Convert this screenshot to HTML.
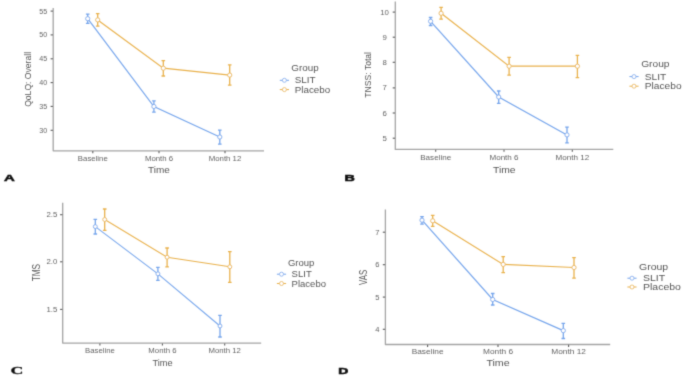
<!DOCTYPE html>
<html><head><meta charset="utf-8"><style>
html,body{margin:0;padding:0;background:#fff;}
body{width:685px;height:376px;overflow:hidden;}
svg{display:block;font-family:"Liberation Sans", sans-serif;}
</style></head><body>
<svg width="685" height="376" viewBox="0 0 685 376">
<defs><filter id="bl" x="-5%" y="-5%" width="110%" height="110%"><feConvolveMatrix order="3" kernelMatrix="0.01917 0.10012 0.01917 0.10012 0.52283 0.10012 0.01917 0.10012 0.01917" edgeMode="duplicate" preserveAlpha="false"/></filter></defs>
<rect width="685" height="376" fill="#fff"/>
<g filter="url(#bl)">
<path d="M53.20 8.00 V150.80 H264.00" fill="none" stroke="#a4a4a4" stroke-width="1.3" stroke-linejoin="round"/>
<line x1="50.60" y1="11.10" x2="52.90" y2="11.10" stroke="#5a5a5a" stroke-width="1.1"/>
<text transform="translate(47.20,13.55) scale(1.05,1)" text-anchor="end" font-size="6.8" fill="#646464" >55</text>
<line x1="50.60" y1="34.90" x2="52.90" y2="34.90" stroke="#5a5a5a" stroke-width="1.1"/>
<text transform="translate(47.20,37.35) scale(1.05,1)" text-anchor="end" font-size="6.8" fill="#646464" >50</text>
<line x1="50.60" y1="58.80" x2="52.90" y2="58.80" stroke="#5a5a5a" stroke-width="1.1"/>
<text transform="translate(47.20,61.25) scale(1.05,1)" text-anchor="end" font-size="6.8" fill="#646464" >45</text>
<line x1="50.60" y1="82.60" x2="52.90" y2="82.60" stroke="#5a5a5a" stroke-width="1.1"/>
<text transform="translate(47.20,85.05) scale(1.05,1)" text-anchor="end" font-size="6.8" fill="#646464" >40</text>
<line x1="50.60" y1="106.40" x2="52.90" y2="106.40" stroke="#5a5a5a" stroke-width="1.1"/>
<text transform="translate(47.20,108.85) scale(1.05,1)" text-anchor="end" font-size="6.8" fill="#646464" >35</text>
<line x1="50.60" y1="130.30" x2="52.90" y2="130.30" stroke="#5a5a5a" stroke-width="1.1"/>
<text transform="translate(47.20,132.75) scale(1.05,1)" text-anchor="end" font-size="6.8" fill="#646464" >30</text>
<line x1="92.80" y1="151.10" x2="92.80" y2="153.20" stroke="#5a5a5a" stroke-width="1.1"/>
<text transform="translate(92.80,161.00) scale(1.1,1)" text-anchor="middle" font-size="7.1" fill="#646464" >Baseline</text>
<line x1="159.00" y1="151.10" x2="159.00" y2="153.20" stroke="#5a5a5a" stroke-width="1.1"/>
<text transform="translate(159.00,161.00) scale(1.1,1)" text-anchor="middle" font-size="7.1" fill="#646464" >Month 6</text>
<line x1="225.00" y1="151.10" x2="225.00" y2="153.20" stroke="#5a5a5a" stroke-width="1.1"/>
<text transform="translate(225.00,161.00) scale(1.1,1)" text-anchor="middle" font-size="7.1" fill="#646464" >Month 12</text>
<text transform="translate(159.00,173.30) scale(1.03,1)" text-anchor="middle" font-size="9.7" fill="#555555" >Time</text>
<text transform="translate(27.60,79.40) rotate(-90) scale(1,1.1)" text-anchor="middle" font-size="8.6" fill="#555555" dy="0.35em">QoLQ: Overall</text>
<path d="M97.70 19.90 L163.30 68.20 L229.70 75.10" fill="none" stroke="#E9B24E" stroke-width="1.2"/>
<path d="M95.90 13.60 H99.50 M97.70 13.60 V26.10 M95.90 26.10 H99.50" fill="none" stroke="#E9B24E" stroke-width="1.3"/>
<circle cx="97.70" cy="19.90" r="2.1" fill="#fff" stroke="#E9B24E" stroke-width="0.9"/>
<path d="M161.50 60.60 H165.10 M163.30 60.60 V76.00 M161.50 76.00 H165.10" fill="none" stroke="#E9B24E" stroke-width="1.3"/>
<circle cx="163.30" cy="68.20" r="2.1" fill="#fff" stroke="#E9B24E" stroke-width="0.9"/>
<path d="M227.90 64.80 H231.50 M229.70 64.80 V85.10 M227.90 85.10 H231.50" fill="none" stroke="#E9B24E" stroke-width="1.3"/>
<circle cx="229.70" cy="75.10" r="2.1" fill="#fff" stroke="#E9B24E" stroke-width="0.9"/>
<path d="M87.70 18.70 L153.90 106.50 L219.80 137.00" fill="none" stroke="#77A6EC" stroke-width="1.2"/>
<path d="M85.90 14.20 H89.50 M87.70 14.20 V23.40 M85.90 23.40 H89.50" fill="none" stroke="#77A6EC" stroke-width="1.3"/>
<circle cx="87.70" cy="18.70" r="2.1" fill="#fff" stroke="#77A6EC" stroke-width="0.9"/>
<path d="M152.10 100.80 H155.70 M153.90 100.80 V112.20 M152.10 112.20 H155.70" fill="none" stroke="#77A6EC" stroke-width="1.3"/>
<circle cx="153.90" cy="106.50" r="2.1" fill="#fff" stroke="#77A6EC" stroke-width="0.9"/>
<path d="M218.00 130.10 H221.60 M219.80 130.10 V144.20 M218.00 144.20 H221.60" fill="none" stroke="#77A6EC" stroke-width="1.3"/>
<circle cx="219.80" cy="137.00" r="2.1" fill="#fff" stroke="#77A6EC" stroke-width="0.9"/>
<text transform="translate(291.30,71.20) scale(1.16,1)" text-anchor="start" font-size="8.5" fill="#555555" >Group</text>
<line x1="279.80" y1="80.30" x2="289.00" y2="80.30" stroke="#77A6EC" stroke-width="1.0"/>
<circle cx="284.40" cy="80.30" r="2" fill="#fff" stroke="#77A6EC" stroke-width="0.8"/>
<text transform="translate(294.70,83.36) scale(1.16,1)" text-anchor="start" font-size="8.5" fill="#555555" >SLIT</text>
<line x1="279.80" y1="89.60" x2="289.00" y2="89.60" stroke="#E9B24E" stroke-width="1.0"/>
<circle cx="284.40" cy="89.60" r="2" fill="#fff" stroke="#E9B24E" stroke-width="0.8"/>
<text transform="translate(294.70,92.66) scale(1.16,1)" text-anchor="start" font-size="8.5" fill="#555555" >Placebo</text>
<path d="M395.30 1.60 V149.40 H613.30" fill="none" stroke="#a4a4a4" stroke-width="1.3" stroke-linejoin="round"/>
<line x1="392.70" y1="12.10" x2="395.00" y2="12.10" stroke="#5a5a5a" stroke-width="1.1"/>
<text transform="translate(384.60,14.69) scale(1.084947049924357,1)" text-anchor="middle" font-size="7.2" fill="#646464" >10</text>
<line x1="392.70" y1="37.20" x2="395.00" y2="37.20" stroke="#5a5a5a" stroke-width="1.1"/>
<text transform="translate(384.60,39.79) scale(1.084947049924357,1)" text-anchor="middle" font-size="7.2" fill="#646464" >9</text>
<line x1="392.70" y1="62.30" x2="395.00" y2="62.30" stroke="#5a5a5a" stroke-width="1.1"/>
<text transform="translate(384.60,64.89) scale(1.084947049924357,1)" text-anchor="middle" font-size="7.2" fill="#646464" >8</text>
<line x1="392.70" y1="87.90" x2="395.00" y2="87.90" stroke="#5a5a5a" stroke-width="1.1"/>
<text transform="translate(384.60,90.49) scale(1.084947049924357,1)" text-anchor="middle" font-size="7.2" fill="#646464" >7</text>
<line x1="392.70" y1="113.00" x2="395.00" y2="113.00" stroke="#5a5a5a" stroke-width="1.1"/>
<text transform="translate(384.60,115.59) scale(1.084947049924357,1)" text-anchor="middle" font-size="7.2" fill="#646464" >6</text>
<line x1="392.70" y1="138.20" x2="395.00" y2="138.20" stroke="#5a5a5a" stroke-width="1.1"/>
<text transform="translate(384.60,140.79) scale(1.084947049924357,1)" text-anchor="middle" font-size="7.2" fill="#646464" >5</text>
<line x1="435.70" y1="149.70" x2="435.70" y2="151.80" stroke="#5a5a5a" stroke-width="1.1"/>
<text transform="translate(435.70,160.20) scale(1.1366111951588502,1)" text-anchor="middle" font-size="7.1" fill="#646464" >Baseline</text>
<line x1="504.00" y1="149.70" x2="504.00" y2="151.80" stroke="#5a5a5a" stroke-width="1.1"/>
<text transform="translate(504.00,160.20) scale(1.1366111951588502,1)" text-anchor="middle" font-size="7.1" fill="#646464" >Month 6</text>
<line x1="572.30" y1="149.70" x2="572.30" y2="151.80" stroke="#5a5a5a" stroke-width="1.1"/>
<text transform="translate(572.30,160.20) scale(1.1366111951588502,1)" text-anchor="middle" font-size="7.1" fill="#646464" >Month 12</text>
<text transform="translate(504.30,173.30) scale(1.0642813918305596,1)" text-anchor="middle" font-size="9.7" fill="#555555" >Time</text>
<text transform="translate(367.60,74.80) rotate(-90) scale(1,1.1)" text-anchor="middle" font-size="8.6" fill="#555555" dy="0.35em">TNSS: Total</text>
<path d="M441.10 13.30 L509.10 66.20 L577.40 66.20" fill="none" stroke="#E9B24E" stroke-width="1.2"/>
<path d="M439.30 7.40 H442.90 M441.10 7.40 V19.10 M439.30 19.10 H442.90" fill="none" stroke="#E9B24E" stroke-width="1.3"/>
<circle cx="441.10" cy="13.30" r="2.1" fill="#fff" stroke="#E9B24E" stroke-width="0.9"/>
<path d="M507.30 57.40 H510.90 M509.10 57.40 V75.10 M507.30 75.10 H510.90" fill="none" stroke="#E9B24E" stroke-width="1.3"/>
<circle cx="509.10" cy="66.20" r="2.1" fill="#fff" stroke="#E9B24E" stroke-width="0.9"/>
<path d="M575.60 55.30 H579.20 M577.40 55.30 V77.70 M575.60 77.70 H579.20" fill="none" stroke="#E9B24E" stroke-width="1.3"/>
<circle cx="577.40" cy="66.20" r="2.1" fill="#fff" stroke="#E9B24E" stroke-width="0.9"/>
<path d="M430.60 21.30 L498.70 97.00 L567.00 134.90" fill="none" stroke="#77A6EC" stroke-width="1.2"/>
<path d="M428.80 17.50 H432.40 M430.60 17.50 V25.50 M428.80 25.50 H432.40" fill="none" stroke="#77A6EC" stroke-width="1.3"/>
<circle cx="430.60" cy="21.30" r="2.1" fill="#fff" stroke="#77A6EC" stroke-width="0.9"/>
<path d="M496.90 91.00 H500.50 M498.70 91.00 V103.40 M496.90 103.40 H500.50" fill="none" stroke="#77A6EC" stroke-width="1.3"/>
<circle cx="498.70" cy="97.00" r="2.1" fill="#fff" stroke="#77A6EC" stroke-width="0.9"/>
<path d="M565.20 127.20 H568.80 M567.00 127.20 V142.90 M565.20 142.90 H568.80" fill="none" stroke="#77A6EC" stroke-width="1.3"/>
<circle cx="567.00" cy="134.90" r="2.1" fill="#fff" stroke="#77A6EC" stroke-width="0.9"/>
<text transform="translate(641.20,67.00) scale(1.1986081694402417,1)" text-anchor="start" font-size="8.5" fill="#555555" >Group</text>
<line x1="629.40" y1="76.60" x2="638.60" y2="76.60" stroke="#77A6EC" stroke-width="1.0"/>
<circle cx="634.00" cy="76.60" r="2" fill="#fff" stroke="#77A6EC" stroke-width="0.8"/>
<text transform="translate(644.80,79.66) scale(1.1986081694402417,1)" text-anchor="start" font-size="8.5" fill="#555555" >SLIT</text>
<line x1="629.40" y1="86.20" x2="638.60" y2="86.20" stroke="#E9B24E" stroke-width="1.0"/>
<circle cx="634.00" cy="86.20" r="2" fill="#fff" stroke="#E9B24E" stroke-width="0.8"/>
<text transform="translate(644.80,89.26) scale(1.1986081694402417,1)" text-anchor="start" font-size="8.5" fill="#555555" >Placebo</text>
<path d="M62.70 202.80 V343.10 H261.20" fill="none" stroke="#a4a4a4" stroke-width="1.3" stroke-linejoin="round"/>
<line x1="60.10" y1="214.70" x2="62.40" y2="214.70" stroke="#5a5a5a" stroke-width="1.1"/>
<text transform="translate(57.30,217.22) scale(1.12,1)" text-anchor="end" font-size="7.0" fill="#646464" >2.5</text>
<line x1="60.10" y1="261.80" x2="62.40" y2="261.80" stroke="#5a5a5a" stroke-width="1.1"/>
<text transform="translate(57.30,264.32) scale(1.12,1)" text-anchor="end" font-size="7.0" fill="#646464" >2.0</text>
<line x1="60.10" y1="309.40" x2="62.40" y2="309.40" stroke="#5a5a5a" stroke-width="1.1"/>
<text transform="translate(57.30,311.92) scale(1.12,1)" text-anchor="end" font-size="7.0" fill="#646464" >1.5</text>
<line x1="99.90" y1="343.40" x2="99.90" y2="345.50" stroke="#5a5a5a" stroke-width="1.1"/>
<text transform="translate(99.90,352.90) scale(1.13,1)" text-anchor="middle" font-size="6.9" fill="#646464" >Baseline</text>
<line x1="162.40" y1="343.40" x2="162.40" y2="345.50" stroke="#5a5a5a" stroke-width="1.1"/>
<text transform="translate(162.40,352.90) scale(1.13,1)" text-anchor="middle" font-size="6.9" fill="#646464" >Month 6</text>
<line x1="224.70" y1="343.40" x2="224.70" y2="345.50" stroke="#5a5a5a" stroke-width="1.1"/>
<text transform="translate(224.70,352.90) scale(1.13,1)" text-anchor="middle" font-size="6.9" fill="#646464" >Month 12</text>
<text transform="translate(162.50,366.00) scale(0.9723449319213312,1)" text-anchor="middle" font-size="9.5" fill="#555555" >Time</text>
<text transform="translate(36.40,272.60) rotate(-90) scale(1,1.4)" text-anchor="middle" font-size="8.3" fill="#555555" dy="0.35em">TMS</text>
<path d="M104.70 219.50 L167.10 257.20 L229.80 266.80" fill="none" stroke="#E9B24E" stroke-width="1.05"/>
<path d="M102.90 209.00 H106.50 M104.70 209.00 V230.30 M102.90 230.30 H106.50" fill="none" stroke="#E9B24E" stroke-width="1.3"/>
<circle cx="104.70" cy="219.50" r="1.95" fill="#fff" stroke="#E9B24E" stroke-width="0.9"/>
<path d="M165.30 248.00 H168.90 M167.10 248.00 V266.80 M165.30 266.80 H168.90" fill="none" stroke="#E9B24E" stroke-width="1.3"/>
<circle cx="167.10" cy="257.20" r="1.95" fill="#fff" stroke="#E9B24E" stroke-width="0.9"/>
<path d="M228.00 251.60 H231.60 M229.80 251.60 V282.30 M228.00 282.30 H231.60" fill="none" stroke="#E9B24E" stroke-width="1.3"/>
<circle cx="229.80" cy="266.80" r="1.95" fill="#fff" stroke="#E9B24E" stroke-width="0.9"/>
<path d="M95.30 226.60 L157.90 273.80 L220.00 326.00" fill="none" stroke="#77A6EC" stroke-width="1.05"/>
<path d="M93.50 219.40 H97.10 M95.30 219.40 V234.00 M93.50 234.00 H97.10" fill="none" stroke="#77A6EC" stroke-width="1.3"/>
<circle cx="95.30" cy="226.60" r="1.95" fill="#fff" stroke="#77A6EC" stroke-width="0.9"/>
<path d="M156.10 267.40 H159.70 M157.90 267.40 V280.40 M156.10 280.40 H159.70" fill="none" stroke="#77A6EC" stroke-width="1.3"/>
<circle cx="157.90" cy="273.80" r="1.95" fill="#fff" stroke="#77A6EC" stroke-width="0.9"/>
<path d="M218.20 315.30 H221.80 M220.00 315.30 V337.00 M218.20 337.00 H221.80" fill="none" stroke="#77A6EC" stroke-width="1.3"/>
<circle cx="220.00" cy="326.00" r="1.95" fill="#fff" stroke="#77A6EC" stroke-width="0.9"/>
<text transform="translate(287.90,265.70) scale(1.12,1)" text-anchor="start" font-size="8.5" fill="#555555" >Group</text>
<line x1="276.90" y1="274.20" x2="286.10" y2="274.20" stroke="#77A6EC" stroke-width="1.0"/>
<circle cx="281.50" cy="274.20" r="2" fill="#fff" stroke="#77A6EC" stroke-width="0.8"/>
<text transform="translate(291.60,277.26) scale(1.12,1)" text-anchor="start" font-size="8.5" fill="#555555" >SLIT</text>
<line x1="276.90" y1="283.50" x2="286.10" y2="283.50" stroke="#E9B24E" stroke-width="1.0"/>
<circle cx="281.50" cy="283.50" r="2" fill="#fff" stroke="#E9B24E" stroke-width="0.8"/>
<text transform="translate(291.60,286.56) scale(1.12,1)" text-anchor="start" font-size="8.5" fill="#555555" >Placebo</text>
<path d="M385.40 209.60 V344.50 H610.20" fill="none" stroke="#a4a4a4" stroke-width="1.3" stroke-linejoin="round"/>
<line x1="382.80" y1="232.20" x2="385.10" y2="232.20" stroke="#5a5a5a" stroke-width="1.1"/>
<text transform="translate(379.50,234.65) scale(1.1198940998487141,1)" text-anchor="end" font-size="6.8" fill="#646464" >7</text>
<line x1="382.80" y1="264.70" x2="385.10" y2="264.70" stroke="#5a5a5a" stroke-width="1.1"/>
<text transform="translate(379.50,267.15) scale(1.1198940998487141,1)" text-anchor="end" font-size="6.8" fill="#646464" >6</text>
<line x1="382.80" y1="297.10" x2="385.10" y2="297.10" stroke="#5a5a5a" stroke-width="1.1"/>
<text transform="translate(379.50,299.55) scale(1.1198940998487141,1)" text-anchor="end" font-size="6.8" fill="#646464" >5</text>
<line x1="382.80" y1="329.30" x2="385.10" y2="329.30" stroke="#5a5a5a" stroke-width="1.1"/>
<text transform="translate(379.50,331.75) scale(1.1198940998487141,1)" text-anchor="end" font-size="6.8" fill="#646464" >4</text>
<line x1="427.60" y1="344.80" x2="427.60" y2="346.90" stroke="#5a5a5a" stroke-width="1.1"/>
<text transform="translate(427.60,354.00) scale(1.1732223903177006,1)" text-anchor="middle" font-size="7.1" fill="#646464" >Baseline</text>
<line x1="498.00" y1="344.80" x2="498.00" y2="346.90" stroke="#5a5a5a" stroke-width="1.1"/>
<text transform="translate(498.00,354.00) scale(1.1732223903177006,1)" text-anchor="middle" font-size="7.1" fill="#646464" >Month 6</text>
<line x1="568.60" y1="344.80" x2="568.60" y2="346.90" stroke="#5a5a5a" stroke-width="1.1"/>
<text transform="translate(568.60,354.00) scale(1.1732223903177006,1)" text-anchor="middle" font-size="7.1" fill="#646464" >Month 12</text>
<text transform="translate(498.00,366.30) scale(1.0985627836611196,1)" text-anchor="middle" font-size="9.7" fill="#555555" >Time</text>
<text transform="translate(363.00,277.30) rotate(-90) scale(1,1.4)" text-anchor="middle" font-size="7.9" fill="#555555" dy="0.35em">VAS</text>
<path d="M432.70 220.80 L503.20 264.40 L574.00 267.50" fill="none" stroke="#E9B24E" stroke-width="1.2"/>
<path d="M430.90 215.40 H434.50 M432.70 215.40 V226.40 M430.90 226.40 H434.50" fill="none" stroke="#E9B24E" stroke-width="1.3"/>
<circle cx="432.70" cy="220.80" r="2.1" fill="#fff" stroke="#E9B24E" stroke-width="0.9"/>
<path d="M501.40 256.70 H505.00 M503.20 256.70 V272.70 M501.40 272.70 H505.00" fill="none" stroke="#E9B24E" stroke-width="1.3"/>
<circle cx="503.20" cy="264.40" r="2.1" fill="#fff" stroke="#E9B24E" stroke-width="0.9"/>
<path d="M572.20 257.70 H575.80 M574.00 257.70 V278.20 M572.20 278.20 H575.80" fill="none" stroke="#E9B24E" stroke-width="1.3"/>
<circle cx="574.00" cy="267.50" r="2.1" fill="#fff" stroke="#E9B24E" stroke-width="0.9"/>
<path d="M422.00 220.20 L492.70 299.50 L563.30 330.60" fill="none" stroke="#77A6EC" stroke-width="1.2"/>
<path d="M420.20 216.60 H423.80 M422.00 216.60 V224.20 M420.20 224.20 H423.80" fill="none" stroke="#77A6EC" stroke-width="1.3"/>
<circle cx="422.00" cy="220.20" r="2.1" fill="#fff" stroke="#77A6EC" stroke-width="0.9"/>
<path d="M490.90 293.50 H494.50 M492.70 293.50 V305.00 M490.90 305.00 H494.50" fill="none" stroke="#77A6EC" stroke-width="1.3"/>
<circle cx="492.70" cy="299.50" r="2.1" fill="#fff" stroke="#77A6EC" stroke-width="0.9"/>
<path d="M561.50 323.40 H565.10 M563.30 323.40 V338.50 M561.50 338.50 H565.10" fill="none" stroke="#77A6EC" stroke-width="1.3"/>
<circle cx="563.30" cy="330.60" r="2.1" fill="#fff" stroke="#77A6EC" stroke-width="0.9"/>
<text transform="translate(639.00,269.80) scale(1.237216338880484,1)" text-anchor="start" font-size="8.5" fill="#555555" >Group</text>
<line x1="627.40" y1="278.20" x2="636.60" y2="278.20" stroke="#77A6EC" stroke-width="1.0"/>
<circle cx="632.00" cy="278.20" r="2" fill="#fff" stroke="#77A6EC" stroke-width="0.8"/>
<text transform="translate(643.00,281.26) scale(1.237216338880484,1)" text-anchor="start" font-size="8.5" fill="#555555" >SLIT</text>
<line x1="627.40" y1="287.00" x2="636.60" y2="287.00" stroke="#E9B24E" stroke-width="1.0"/>
<circle cx="632.00" cy="287.00" r="2" fill="#fff" stroke="#E9B24E" stroke-width="0.8"/>
<text transform="translate(643.00,290.06) scale(1.237216338880484,1)" text-anchor="start" font-size="8.5" fill="#555555" >Placebo</text>
<text transform="translate(4.1,181.2) scale(1.66,1)" font-size="9.0" font-weight="bold" fill="#111" stroke="#111" stroke-width="0.5">A</text>
<text transform="translate(344.6,181.4) scale(1.5,1)" font-size="9.6" font-weight="bold" fill="#111" stroke="#111" stroke-width="0.5">B</text>
<text transform="translate(10.6,374.4) scale(1.55,1)" font-size="11.4" font-weight="bold" fill="#111" stroke="#111" stroke-width="0.3" font-family="'Liberation Serif', serif">C</text>
<text transform="translate(338.3,374) scale(1.6,1)" font-size="8.7" font-weight="bold" fill="#111" stroke="#111" stroke-width="0.5">D</text>
</g>
</svg>
</body></html>
